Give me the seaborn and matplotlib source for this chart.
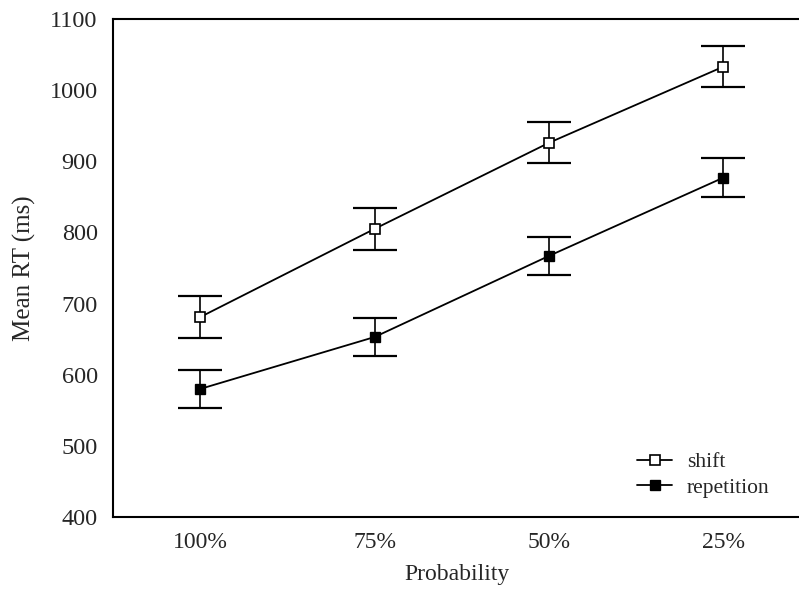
import numpy as np
import pandas as pd
import matplotlib
matplotlib.use("Agg")
import matplotlib.pyplot as plt
import seaborn as sns

# data
probability = ["100%", "75%", "50%", "25%"]
shift_rt = [681, 805, 926, 1033]
shift_err = [29, 29, 29, 29]
repetition_rt = [580, 653, 767, 877]
repetition_err = [27, 27, 27, 27]

sns.set_theme(style="white")
plt.rcParams["font.family"] = ["Liberation Serif", "DejaVu Serif"]

df = pd.DataFrame({
    "Probability": probability * 2,
    "RT": shift_rt + repetition_rt,
    "cond": ["shift"] * 4 + ["repetition"] * 4,
})

fig = plt.figure(figsize=(7.99, 5.90), dpi=100)
ax = fig.add_axes([0.1414, 0.1237, 0.86, 0.8441])

# error bars first so markers sit on top
xpos = np.arange(len(probability))
ax.errorbar(xpos, shift_rt, yerr=shift_err, fmt="none", ecolor="black",
            elinewidth=1.2, capsize=16, capthick=1.6, zorder=2)
ax.errorbar(xpos, repetition_rt, yerr=repetition_err, fmt="none", ecolor="black",
            elinewidth=1.2, capsize=16, capthick=1.6, zorder=2)

sns.pointplot(data=df[df.cond == "shift"], x="Probability", y="RT",
              order=probability, color="black", markers="s", errorbar=None,
              linewidth=1.3, markersize=7.5, markerfacecolor="white",
              markeredgecolor="black", markeredgewidth=1.2, label="shift", ax=ax, zorder=3)
sns.pointplot(data=df[df.cond == "repetition"], x="Probability", y="RT",
              order=probability, color="black", markers="s", errorbar=None,
              linewidth=1.3, markersize=7.5, markerfacecolor="black",
              markeredgecolor="black", label="repetition", ax=ax, zorder=3)

ax.set_xlim(-0.5, 3.44)
ax.set_ylim(400, 1100)
ax.set_yticks(range(400, 1101, 100))
ax.tick_params(axis="y", length=0, labelsize=17.5, pad=11)
ax.tick_params(axis="x", length=0, labelsize=17, pad=11)
ax.set_xlabel("Probability", fontsize=17, labelpad=8)
ax.set_ylabel("Mean RT (ms)", fontsize=18, labelpad=10)

for side in ["left", "top", "bottom"]:
    ax.spines[side].set_linewidth(1.5)
    ax.spines[side].set_color("black")
ax.spines["right"].set_visible(False)

ax.legend(loc="lower left", bbox_to_anchor=(0.735, 0.0), frameon=False,
          fontsize=15.5, handlelength=1.6, handletextpad=0.7, labelspacing=0.25)

fig.savefig("out.png", dpi=100)
